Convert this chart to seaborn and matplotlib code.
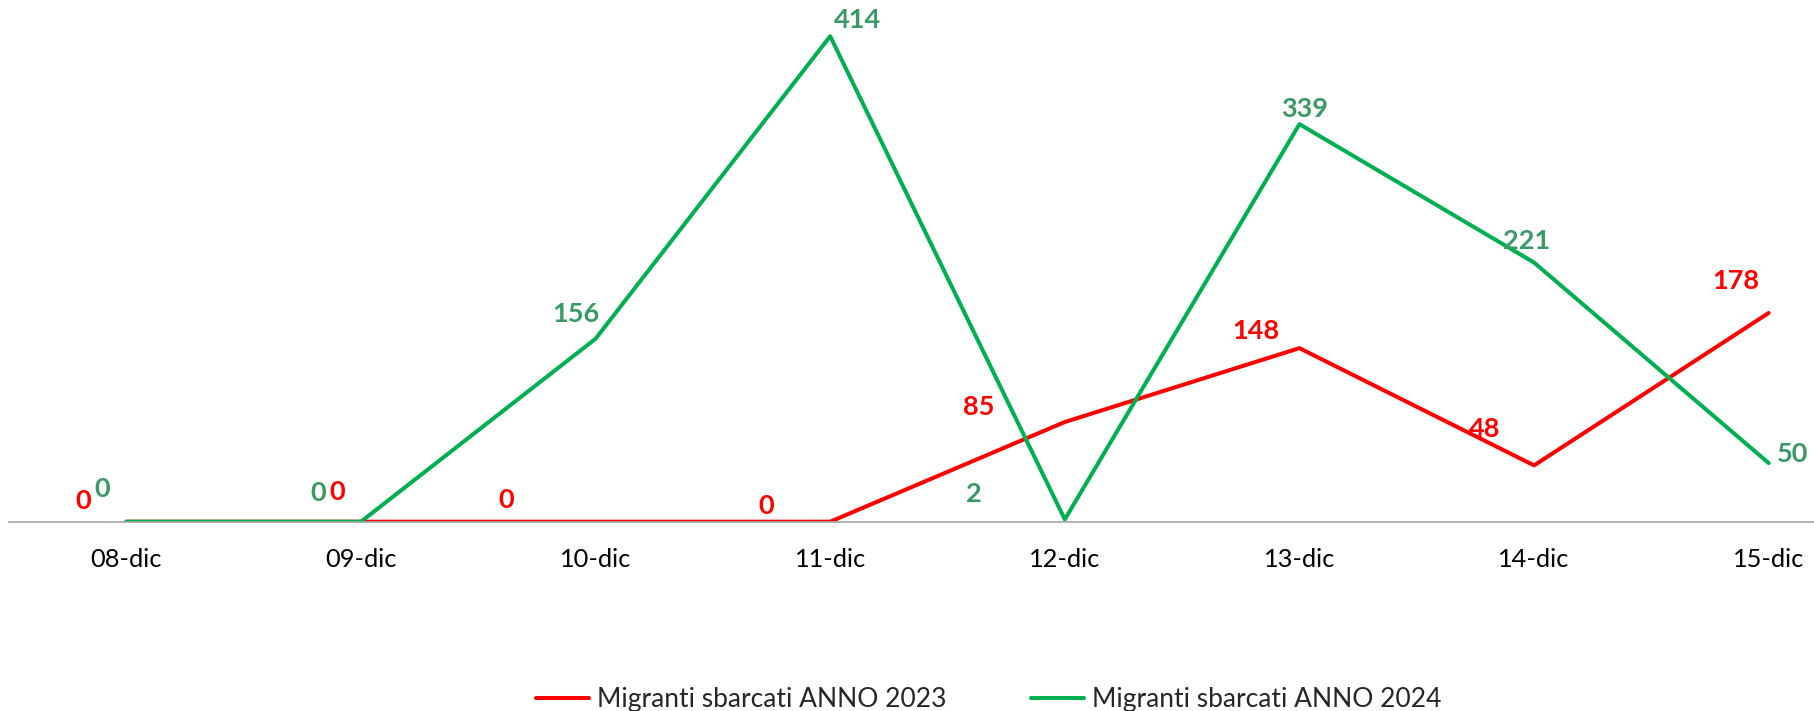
import matplotlib
matplotlib.use("Agg")
import matplotlib.pyplot as plt
import seaborn as sns
import pandas as pd

days = ["08-dic", "09-dic", "10-dic", "11-dic", "12-dic", "13-dic", "14-dic", "15-dic"]
values_2023 = [0, 0, 0, 0, 85, 148, 48, 178]
values_2024 = [0, 0, 156, 414, 2, 339, 221, 50]
series_names = ["Migranti sbarcati ANNO 2023", "Migranti sbarcati ANNO 2024"]

# label offsets (pixels) for data labels
off_2023 = [(-43, 21), (-24, 30), (-89, 22), (-64, 16), (-86, 15), (-44, 17), (-49, 36), (-33, 32)]
off_2024 = [(-24, 33), (-43, 29), (-20, 25), (27, 16), (-91, 25), (5, 15), (-7, 22), (24, 9)]

sns.set_theme(style="white")
plt.rcParams['font.family'] = ['Lato', 'DejaVu Sans']

df = pd.DataFrame({
    "giorno": days * 2,
    "valore": values_2023 + values_2024,
    "serie": [series_names[0]] * len(days) + [series_names[1]] * len(days),
})

line_colors = {series_names[0]: "#FF0000", series_names[1]: "#00B050"}
label_colors = ["#FF0000", "#3A9A66"]

fig = plt.figure(figsize=(18.14, 7.11), dpi=100)
ax = fig.add_axes([9 / 1814, (711 - 521.7) / 711, 1877 / 1814, 516 / 711])

sns.lineplot(data=df, x="giorno", y="valore", hue="serie", palette=line_colors,
             sort=False, linewidth=2.9, ax=ax, legend=False)

ax.set_xlim(-0.5, len(days) - 0.5)
ax.set_ylim(0, 440)
ax.set_xlabel("")
ax.set_ylabel("")
ax.set_yticks([])
ax.set_xticks(range(len(days)))
ax.set_xticklabels(days, fontsize=18.3, color="#000000")
ax.tick_params(axis="x", length=0, pad=19)
for s in ["top", "right", "left"]:
    ax.spines[s].set_visible(False)
ax.spines["bottom"].set_color("#A6A6A6")
ax.spines["bottom"].set_linewidth(1.2)

for vals, offs, col in [(values_2023, off_2023, label_colors[0]), (values_2024, off_2024, label_colors[1])]:
    for i, (v, (dx, dy)) in enumerate(zip(vals, offs)):
        ax.annotate(str(v), (i, v), xytext=(dx, dy), textcoords="offset pixels",
                    ha="center", va="center", fontsize=19.5, fontweight="bold",
                    color=col, annotation_clip=False)

handles = [plt.Line2D([], [], color=line_colors[n], linewidth=2.9) for n in series_names]
fig.legend(handles, series_names, loc="center", bbox_to_anchor=(0.545, 1 - 700 / 711),
           ncol=2, frameon=False, fontsize=19, handlelength=2.0, handletextpad=0.3,
           columnspacing=3.2)

fig.savefig("out.png", dpi=100)
